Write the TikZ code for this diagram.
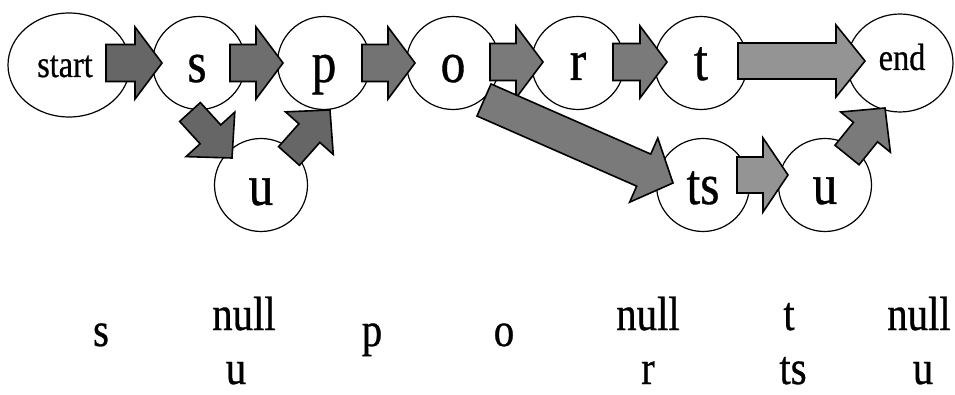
\documentclass[tikz,border=0pt]{standalone}
\usepackage{fontspec}
\setmainfont[FakeStretch=0.85,FakeBold=0.6]{Liberation Serif}
\usetikzlibrary{calc,shapes.geometric}
\tikzset{
  stcircle/.style={draw, line width=1.2pt, circle, minimum size=93pt, inner sep=0pt},
  stell/.style={draw, line width=1.2pt, ellipse, inner sep=0pt},
  biglab/.style={anchor=base, inner sep=0pt, font=\fontsize{58}{58}\selectfont},
  smalllab/.style={anchor=base, inner sep=0pt, font=\fontsize{38}{38}\selectfont},
  bottomlab/.style={anchor=base, inner sep=0pt, font=\fontsize{48}{48}\selectfont},
  blockarrow/.style={draw, line width=1.6pt, line join=miter},
}
\newcommand\barrow[6]{%
  \coordinate (bb) at ($(#3)!#4pt!(#2)$);
  \draw[blockarrow, fill=#1] ($(#2)!#5pt!90:(#3)$) -- ($(bb)!#5pt!90:(#3)$)
     -- ($(bb)!#6pt!90:(#3)$) -- (#3) -- ($(bb)!#6pt!-90:(#3)$)
     -- ($(bb)!#5pt!-90:(#3)$) -- ($(#2)!#5pt!-90:(#3)$) -- cycle;}
\begin{document}
\begin{tikzpicture}[x=1pt,y=-1pt]
\useasboundingbox (0,0) rectangle (955,395);
% states
\node[stell, minimum width=122pt, minimum height=104pt] (start) at (69,65) {};
\node[stcircle] (s) at (199,63) {};
\node[stcircle] (p) at (324,63) {};
\node[stcircle] (o) at (453,63) {};
\node[stcircle] (r) at (578,63) {};
\node[stcircle] (t) at (701,63) {};
\node[stell, minimum width=106pt, minimum height=98pt] (end) at (900,63) {};
\node[stcircle] (u) at (261,185) {};
\node[stcircle] (ts) at (703,185) {};
\node[stcircle] (u2) at (825,185) {};
% state labels
\node[smalllab] (lstart) at (65,77) {start};
\node[biglab] (ls) at (197,82) {s};
\node[biglab] (lp) at (324,82) {p};
\node[biglab] (lo) at (453,82) {o};
\node[biglab] (lr) at (578,80) {r};
\node[biglab] (lt) at (701,80) {t};
\node[smalllab] (lend) at (902,70) {end};
\node[biglab] (lu) at (261,205) {u};
\node[biglab] (lts) at (703,204) {ts};
\node[biglab] (lu2) at (825,204) {u};
% arrow end points
\coordinate (a1s) at (106,63);  \coordinate (a1e) at (162,63);
\coordinate (a2s) at (230,63);  \coordinate (a2e) at (283,63);
\coordinate (a3s) at (362,63);  \coordinate (a3e) at (415,63);
\coordinate (a4s) at (490,62);  \coordinate (a4e) at (543,62);
\coordinate (a5s) at (613,62);  \coordinate (a5e) at (667,62);
\coordinate (a6s) at (738,61);  \coordinate (a6e) at (865,61);
\coordinate (a7s) at (737,175); \coordinate (a7e) at (788,175);
\coordinate (a8s) at (484,100); \coordinate (a8e) at (673,183);
\coordinate (a9s) at (190,112); \coordinate (a9e) at (232,158);
\coordinate (a10s) at (289,156); \coordinate (a10e) at (330,110);
\coordinate (a11s) at (847,155); \coordinate (a11e) at (885,108);
% block arrows
\barrow{black!60}{a1s}{a1e}{27}{18.5}{36}
\barrow{black!57}{a2s}{a2e}{27}{18.5}{36}
\barrow{black!55}{a3s}{a3e}{27}{18.5}{36}
\barrow{black!52}{a4s}{a4e}{27}{18.5}{36}
\barrow{black!52}{a5s}{a5e}{27}{18.5}{36}
\barrow{black!42}{a6s}{a6e}{29}{18}{36}
\barrow{black!42}{a7s}{a7e}{25}{18}{37}
\barrow{black!52}{a8s}{a8e}{32}{17.5}{35}
\barrow{black!60}{a9s}{a9e}{32}{14}{33}
\barrow{black!60}{a10s}{a10e}{31}{14}{32}
\barrow{black!52}{a11s}{a11e}{31}{15.5}{32}
% bottom table
\node[bottomlab] (b1) at (101,346) {s};
\node[bottomlab] (b2) at (244,330) {null};
\node[bottomlab] (b3) at (236,384) {u};
\node[bottomlab] (b4) at (372,346) {p};
\node[bottomlab] (b5) at (504,346) {o};
\node[bottomlab] (b6) at (648,330) {null};
\node[bottomlab] (b7) at (648,384) {r};
\node[bottomlab] (b8) at (789,330) {t};
\node[bottomlab] (b9) at (793,384) {ts};
\node[bottomlab] (b10) at (919,330) {null};
\node[bottomlab] (b11) at (923,384) {u};
\end{tikzpicture}
\end{document}
